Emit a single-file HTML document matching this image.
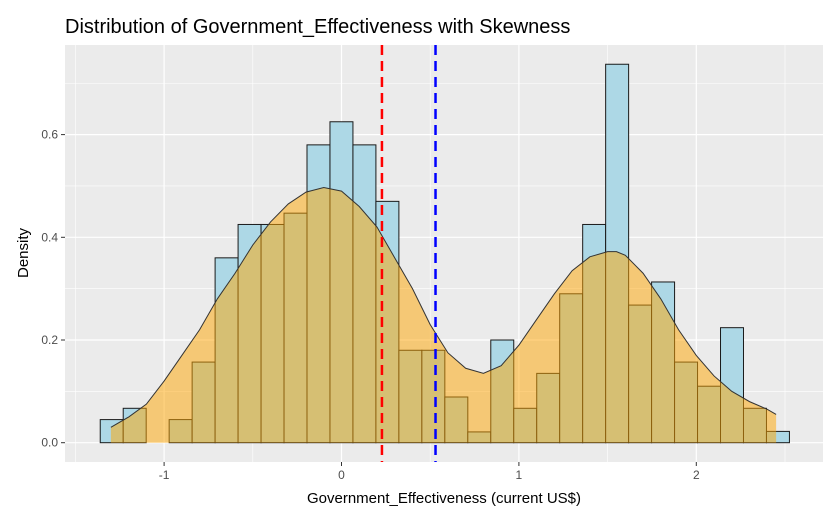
<!DOCTYPE html>
<html><head><meta charset="utf-8"><style>
body{margin:0;background:#fff;}
svg text{font-family:"Liberation Sans",Arial,sans-serif;}
</style></head><body>
<svg width="838" height="525" xmlns="http://www.w3.org/2000/svg">
<rect x="0" y="0" width="838" height="525" fill="#fff"/>
<text x="65" y="33" font-size="20" fill="#000">Distribution of Government_Effectiveness with Skewness</text>
<rect x="65" y="45" width="758" height="417" fill="#ebebeb"/>
<g id="grid"></g>
<g id="hist"></g>
<g id="dens"></g>
<g id="vlines"></g>
<g id="axes"></g>
<text x="444" y="503" font-size="15" text-anchor="middle" fill="#000">Government_Effectiveness (current US$)</text>
<text transform="translate(28,253) rotate(-90)" font-size="15" text-anchor="middle" fill="#000">Density</text>
</svg>
<script>
const binStart = -1.36;
const binWidth = 0.1295;
const histDensity = [0.045,0.067,0,0.045,0.157,0.36,0.425,0.425,0.447,0.58,0.625,0.58,0.47,0.18,0.18,0.089,0.021,0.2,0.067,0.135,0.29,0.425,0.737,0.268,0.313,0.157,0.11,0.224,0.067,0.022];
const densX = [-1.30,-1.2,-1.1,-1.0,-0.9,-0.8,-0.7,-0.6,-0.5,-0.4,-0.3,-0.2,-0.1,0,0.1,0.2,0.3,0.4,0.5,0.6,0.7,0.8,0.9,1.0,1.1,1.2,1.3,1.4,1.5,1.55,1.6,1.7,1.8,1.9,2.0,2.1,2.2,2.3,2.4,2.45];
const densY = [0.03,0.05,0.075,0.12,0.17,0.22,0.28,0.33,0.385,0.43,0.465,0.488,0.497,0.49,0.46,0.42,0.36,0.30,0.23,0.175,0.145,0.135,0.15,0.19,0.24,0.29,0.335,0.362,0.372,0.372,0.365,0.33,0.28,0.22,0.17,0.13,0.10,0.08,0.065,0.055];
const medianVal = 0.228;
const meanVal = 0.53;
const xTicks = [-1,0,1,2];
const yTicks = [0,0.2,0.4,0.6];

const NS="http://www.w3.org/2000/svg";
const X0=65,X1=823,Y0=45,Y1=462;
const sx=v=>341.5+v*177.4;
const sy=v=>442.7-v*513.5;
function mk(tag,attrs,parent){const e=document.createElementNS(NS,tag);for(const k in attrs)e.setAttribute(k,attrs[k]);document.getElementById(parent).appendChild(e);return e;}
// grid
[-1.5,-0.5,0.5,1.5,2.5].forEach(v=>{const l=mk('line',{x1:sx(v),x2:sx(v),y1:Y0,y2:Y1,stroke:'#fff','stroke-width':0.6},'grid');

});
[0.1,0.3,0.5,0.7].forEach(v=>{const l=mk('line',{x1:X0,x2:X1,y1:sy(v),y2:sy(v),stroke:'#fff','stroke-width':0.6},'grid');

});
xTicks.forEach(v=>{const l=mk('line',{x1:sx(v),x2:sx(v),y1:Y0,y2:Y1,stroke:'#fff','stroke-width':1.2},'grid');


const t=mk('line',{x1:sx(v),x2:sx(v),y1:Y1,y2:Y1+4,stroke:'#333','stroke-width':1},'axes');


const tx=mk('text',{x:sx(v),y:Y1+17,'font-size':12,'text-anchor':'middle',fill:'#4d4d4d'},'axes');tx.textContent=v;

});
yTicks.forEach(v=>{const l=mk('line',{x1:X0,x2:X1,y1:sy(v),y2:sy(v),stroke:'#fff','stroke-width':1.2},'grid');


const t=mk('line',{x1:X0-4,x2:X0,y1:sy(v),y2:sy(v),stroke:'#333','stroke-width':1},'axes');


const tx=mk('text',{x:X0-7,y:sy(v)+4,'font-size':12,'text-anchor':'end',fill:'#4d4d4d'},'axes');tx.textContent=v.toFixed(1);

});
// histogram
histDensity.forEach((d,i)=>{if(d<=0)return;const a=sx(binStart+i*binWidth),b=sx(binStart+(i+1)*binWidth);
const r=mk('rect',{x:a,y:sy(d),width:b-a,height:sy(0)-sy(d),fill:'#add8e6',stroke:'#1a1a1a','stroke-width':1},'hist');

});
// density
let p='M'+sx(densX[0])+','+sy(0);
densX.forEach((x,i)=>{p+=' L'+sx(x)+','+sy(densY[i]);});
p+=' L'+sx(densX[densX.length-1])+','+sy(0)+' Z';
const da=mk('path',{d:p,fill:'#ffa500','fill-opacity':0.5,stroke:'none'},'dens');


let p2='M'+densX.map((x,i)=>sx(x)+','+sy(densY[i])).join(' L');
const dl=mk('path',{d:p2,fill:'none',stroke:'#333','stroke-width':1},'dens');


const ml=mk('line',{x1:sx(medianVal),x2:sx(medianVal),y1:Y0,y2:Y1,stroke:'#ff0000','stroke-width':2.5,'stroke-dasharray':'10,6'},'vlines');


const mn=mk('line',{x1:sx(meanVal),x2:sx(meanVal),y1:Y0,y2:Y1,stroke:'#0000ff','stroke-width':2.5,'stroke-dasharray':'10,6'},'vlines');


</script>
</body></html>
